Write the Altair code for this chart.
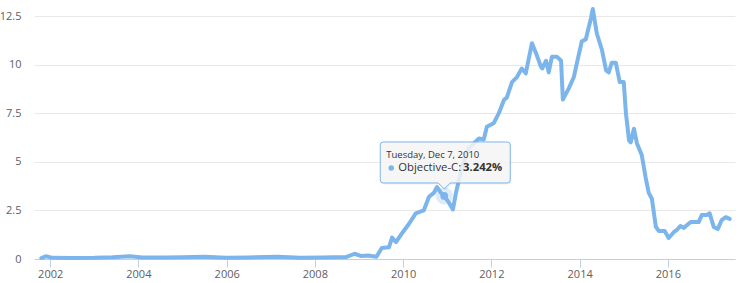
import altair as alt
import pandas as pd

FONT = "Open Sans"
LINE_COLOR = "#7cb5ec"

# Objective-C popularity (%)
dates = [
    "2001-10-20", "2001-11-25", "2002-01-20", "2002-07-01", "2003-01-01",
    "2003-06-01", "2003-10-25", "2004-02-01", "2004-08-01", "2005-01-01",
    "2005-07-01", "2006-01-01", "2006-07-01", "2007-03-01", "2007-09-01",
    "2008-03-01", "2008-09-15", "2008-11-25", "2009-01-20", "2009-03-15",
    "2009-05-25", "2009-07-08", "2009-09-05", "2009-10-01", "2009-11-03",
    "2009-12-20", "2010-02-17", "2010-04-15", "2010-06-20", "2010-08-03",
    "2010-09-12", "2010-10-08", "2010-11-10", "2010-12-07", "2011-01-15",
    "2011-02-17", "2011-03-14", "2011-05-01", "2011-06-28", "2011-09-20",
    "2011-10-30", "2011-11-25", "2012-01-22", "2012-03-03", "2012-04-16",
    "2012-05-08", "2012-06-20", "2012-07-31", "2012-09-09", "2012-10-12",
    "2012-12-02", "2013-01-04", "2013-02-14", "2013-02-25", "2013-03-29",
    "2013-04-20", "2013-05-16", "2013-06-28", "2013-07-31", "2013-08-15",
    "2013-10-05", "2013-11-14", "2013-12-10", "2014-01-19", "2014-02-21",
    "2014-04-05", "2014-04-20", "2014-05-23", "2014-07-05", "2014-08-08",
    "2014-08-30", "2014-09-24", "2014-10-27", "2014-11-29", "2015-01-01",
    "2015-01-19", "2015-02-14", "2015-02-28", "2015-03-26", "2015-04-20",
    "2015-05-30", "2015-07-01", "2015-07-27", "2015-08-22", "2015-09-24",
    "2015-10-19", "2015-12-06", "2016-01-08", "2016-02-21", "2016-03-14",
    "2016-04-15", "2016-05-11", "2016-07-08", "2016-09-12", "2016-10-08",
    "2016-11-17", "2016-12-12", "2017-01-15", "2017-02-17", "2017-03-22",
    "2017-04-24", "2017-05-27",
]
values = [
    0.05, 0.14, 0.06, 0.05, 0.06,
    0.09, 0.14, 0.08, 0.08, 0.09,
    0.11, 0.07, 0.08, 0.12, 0.07,
    0.08, 0.1, 0.27, 0.15, 0.18,
    0.12, 0.57, 0.6, 1.1, 0.87,
    1.3, 1.8, 2.35, 2.5, 3.2,
    3.4, 3.7, 3.4, 3.242, 2.9,
    2.55, 3.4, 4.7, 5.7, 6.2,
    6.15, 6.8, 7.0, 7.5, 8.2,
    8.3, 9.1, 9.36, 9.8, 9.55,
    11.1, 10.6, 9.9, 9.8, 10.2,
    9.6, 10.4, 10.4, 10.2, 8.2,
    8.8, 9.36, 10.1, 11.2, 11.3,
    12.4, 12.86, 11.6, 10.75, 9.7,
    9.6, 10.1, 10.1, 9.1, 9.1,
    7.5, 6.1, 6.0, 6.7, 5.96,
    5.35, 4.2, 3.4, 3.1, 1.65,
    1.44, 1.44, 1.08, 1.39, 1.49,
    1.7, 1.6, 1.9, 1.9, 2.26,
    2.26, 2.35, 1.65, 1.54, 2.0,
    2.15, 2.06,
]

series_name = "Objective-C"
hover_date = "2010-12-07"
hover_value = 3.242
hover_header = "Tuesday, Dec 7, 2010"
y_ticks = [0, 2.5, 5, 7.5, 10, 12.5]
x_tick_years = [2002, 2004, 2006, 2008, 2010, 2012, 2014, 2016]

df = pd.DataFrame({"date": dates, "value": values})
hover = pd.DataFrame({
    "date": [hover_date],
    "value": [hover_value],
    "header": [hover_header],
    "name": [series_name + ":"],
    "val": [f"{hover_value:.3f}%"],
})

x_scale = alt.Scale(
    type="utc",
    domain=[alt.DateTime(year=2001, month=8, date=20, utc=True),
            alt.DateTime(year=2017, month=7, date=10, utc=True)],
    nice=False,
)
y_scale = alt.Scale(domain=[0, 12.5], nice=False, zero=True)

x_enc = alt.X(
    "date:T", scale=x_scale, title=None,
    axis=alt.Axis(
        values=[alt.DateTime(year=y, month=1, date=1, utc=True) for y in x_tick_years],
        format="%Y", grid=False, domainColor="#C0D0E0", tickColor="#C0D0E0",
        tickSize=8, labelPadding=1, labelFont=FONT, labelFontSize=11,
        labelColor="#606060",
    ),
)
y_enc = alt.Y(
    "value:Q", scale=y_scale, title=None,
    axis=alt.Axis(
        values=y_ticks, format=".3~g", ticks=False, domain=False,
        gridColor="#e8e8e8", labelPadding=13, labelFont=FONT,
        labelFontSize=11, labelColor="#606060", labelBaseline="middle",
    ),
)

line = alt.Chart(df).mark_line(
    color=LINE_COLOR, strokeWidth=4, strokeJoin="round", strokeCap="round"
).encode(x=x_enc, y=y_enc)

xh = alt.X("date:T", scale=x_scale)
yh = alt.Y("value:Q", scale=y_scale)

halo = alt.Chart(hover).mark_point(
    shape="circle", filled=True, color=LINE_COLOR, opacity=0.25, size=300
).encode(x=xh, y=yh)
marker = alt.Chart(hover).mark_point(
    shape="circle", filled=True, color=LINE_COLOR, opacity=1, size=60
).encode(x=xh, y=yh)

box_path = ("M -0.61 -0.54 L 0.63 -0.54 Q 0.66 -0.54 0.66 -0.51 L 0.66 -0.16 "
            "Q 0.66 -0.13 0.63 -0.13 L 0.06 -0.13 L 0 -0.07 L -0.06 -0.13 "
            "L -0.61 -0.13 Q -0.64 -0.13 -0.64 -0.16 L -0.64 -0.51 "
            "Q -0.64 -0.54 -0.61 -0.54 Z")

shadow = alt.Chart(hover).mark_point(
    shape=box_path, size=40000, filled=True, fill="#000000", fillOpacity=0.06,
    strokeWidth=0, xOffset=1, yOffset=1.5,
).encode(x=xh, y=yh)
box = alt.Chart(hover).mark_point(
    shape=box_path, size=40000, filled=True, fill="#f7f7f7", fillOpacity=0.85,
    stroke=LINE_COLOR, strokeWidth=1, opacity=1,
).encode(x=xh, y=yh)

header = alt.Chart(hover).mark_text(
    align="left", baseline="alphabetic", dx=-58, dy=-38, font=FONT,
    fontSize=9.5, color="#333333",
).encode(x=xh, y=yh, text="header:N")
bullet = alt.Chart(hover).mark_point(
    shape="circle", filled=True, color=LINE_COLOR, opacity=1, size=30,
    xOffset=-53, yOffset=-28,
).encode(x=xh, y=yh)
name = alt.Chart(hover).mark_text(
    align="left", baseline="alphabetic", dx=-46, dy=-24.5, font=FONT,
    fontSize=11.3, color="#333333",
).encode(x=xh, y=yh, text="name:N")
val = alt.Chart(hover).mark_text(
    align="right", baseline="alphabetic", dx=58, dy=-24.5, font=FONT,
    fontSize=11.3, fontWeight="bold", color="#333333",
).encode(x=xh, y=yh, text="val:N")

chart = alt.layer(
    line, halo, shadow, box, marker, header, bullet, name, val
).properties(
    width=701, height=243,
    padding={"left": 34, "top": 16, "right": 4, "bottom": 24},
    autosize=alt.AutoSizeParams(type="none"),
    background="white",
).configure_view(stroke=None)

chart.save("out.html", embed_options={"renderer": "svg", "actions": False})
